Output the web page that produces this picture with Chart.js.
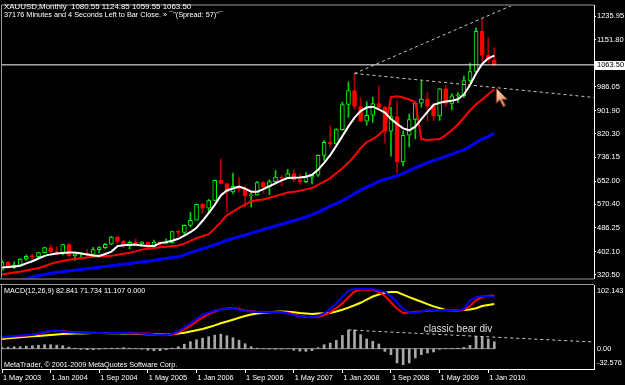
<!DOCTYPE html>
<html lang="en">
<head>
<meta charset="UTF-8">
<title>XAUUSD Monthly</title>
<style>
    html, body { margin: 0; padding: 0; background: #000; }
    #wrap { position: relative; width: 625px; height: 385px; background: #000; overflow: hidden; }
    #main { position: absolute; left: 0; top: 0; }
    #macd { position: absolute; left: 0; top: 284px; }
</style>
</head>
<body>
<div id="wrap">
    <canvas id="main" width="625" height="284"></canvas>
    <canvas id="macd" width="625" height="101"></canvas>
</div>

<script src="https://cdn.jsdelivr.net/npm/chart.js"></script>
<script>
// monthly bars, May 2003 .. Feb 2010 (index 0 = May 2003)
const opens = [336,364,346,354,375,385,384,398,416,402,
    396,427,387,394,394,392,409,416,428,453,
    438,423,435,429,436,417,436,430,433,473,
    470,495,513,569,556,583,654,643,613,633,
    624,599,603,646,632,650,666,662,678,656,
    650,666,673,743,789,783,834,923,972,916,
    864,885,926,913,829,880,720,814,870,928,
    942,918,883,979,927,954,954,1008,1040,1182,
    1097,1080.55];
const highs = [372,367,366,377,390,392,399,417,427,419,
    428,432,396,399,410,417,420,432,456,457,
    443,439,447,438,436,443,437,447,474,479,
    497,541,570,574,587,655,730,643,680,664,
    635,608,651,651,656,690,671,693,692,677,
    682,676,745,795,848,838,932,1003,1033,947,
    933,949,988,917,913,935,830,889,928,1006,
    965,929,980,990,962,965,1024,1070,1195,1227,
    1162,1124.85];
const lows = [336,342,341,354,371,367,378,397,399,391,
    390,384,371,383,386,389,398,412,426,428,
    416,411,424,421,415,414,418,428,432,456,
    461,489,513,538,537,582,642,542,607,612,
    560,560,602,609,604,646,634,660,650,640,
    646,642,668,725,772,782,831,877,906,864,
    850,860,906,786,740,681,705,773,801,914,
    864,866,867,915,905,930,947,1003,1038,1075,
    1072,1059.55];
const closes = [364,346,354,375,385,384,398,416,402,396,
    427,387,394,394,392,409,416,428,453,438,
    423,435,429,436,417,436,430,433,473,470,
    495,513,569,556,583,654,643,613,633,624,
    599,603,646,632,650,666,662,678,656,650,
    666,673,743,789,783,834,923,972,916,864,
    885,926,913,829,880,720,814,870,928,942,
    918,883,979,927,954,955,1008,1040,1182,1097,
    1081,1063.50];

// moving averages
const whiteMA = [345.6,347.3,349.4,351.5,360.1,367.7,377.4,386.7,391.9,395.0,
    397.1,398.8,398.8,395.3,391.5,388.1,386.7,393.3,401.9,421.2,
    424.7,426.4,425.7,423.7,421.9,421.6,431.9,435.4,440.3,447.2,
    458.6,470.6,486.2,511.1,538.0,567.4,600.9,618.5,625.4,632.7,
    625.1,614.0,614.0,623.4,634.1,643.4,654.1,662.7,663.8,664.8,
    666.9,674.1,691.4,715.9,743.9,776.4,811.0,845.5,876.6,899.8,
    912.2,915.3,905.6,894.2,871.8,854.5,838.6,831.7,844.5,871.4,
    896.8,921.9,929.5,934.0,936.7,941.6,958.8,992.3,1032.8,1066.6,
    1086.7,1096.0];
const redMA = [321.4,324.5,327.6,330.7,334.9,339.4,343.5,350.1,358.4,364.2,
    368.7,372.9,375.6,378.4,381.2,383.2,384.3,385.3,386.7,390.5,
    394.3,397.8,402.6,408.8,412.3,414.7,417.1,419.2,421.3,423.3,
    430.2,439.6,449.2,456.5,463.7,484.1,506.2,531.1,543.5,556.7,
    568.1,579.5,584.3,586.4,592.6,598.8,604.7,611.0,614.0,617.5,
    622.3,627.1,637.9,649.9,662.4,679.7,697.0,716.3,740.5,768.1,
    789.5,800.6,815.8,835.2,949.2,952.6,947.8,940.9,931.9,800.6,
    797.1,798.9,800.6,814.5,831.7,852.4,876.9,901.8,924.3,940.5,
    959.5,976.8];
const blueMA = [289.3,292.7,296.2,299.6,304.8,311.7,316.9,321.0,324.8,328.0,
    330.7,333.5,335.9,338.3,341.4,343.9,346.3,349.0,351.8,354.2,
    357.0,359.7,362.2,364.9,367.3,370.4,374.6,377.7,380.8,383.6,
    390.1,398.1,405.3,411.9,418.4,425.7,433.7,442.0,448.2,454.4,
    460.6,467.2,473.4,480.0,486.2,492.4,498.6,504.9,511.1,518.0,
    524.2,532.5,541.8,552.5,562.6,571.9,581.9,594.7,607.1,619.5,
    630.3,640.3,651.0,658.3,663.8,670.3,679.0,688.6,698.3,707.7,
    717.3,724.2,731.5,739.1,747.1,755.0,761.9,774.7,788.2,800.6,
    809.6,821.3];

// MACD window
const macdBlue = [18.7,19.5,20.3,21.0,21.6,22.3,24.3,26.8,28.4,28.7,
    27.6,26.4,25.9,25.6,25.5,25.3,25.0,24.9,25.2,25.4,
    25.1,24.8,24.6,24.2,23.5,22.6,22.1,21.6,24.2,28.0,
    34.0,40.4,47.6,54.0,57.6,61.2,63.0,64.1,65.3,62.4,
    60.3,59.6,58.8,58.3,58.5,58.6,58.3,56.9,54.2,52.1,
    51.1,50.5,52.4,56.9,64.0,72.5,83.1,93.3,95.7,95.7,
    95.7,95.2,93.3,91.2,84.2,74.4,63.6,58.0,57.4,59.6,
    62.2,62.0,61.9,61.7,61.6,61.6,63.6,77.3,82.6,84.5,
    84.3,82.8];
const macdRed = [17.9,18.7,19.5,20.3,21.1,21.9,23.5,25.9,28.0,28.7,
    28.0,27.1,26.3,25.8,25.5,25.4,25.1,24.9,25.0,25.3,
    25.2,24.9,24.7,24.4,24.2,22.9,21.9,21.5,22.7,25.9,
    30.8,36.4,43.6,50.0,55.6,59.6,62.8,64.4,65.3,63.6,
    60.8,60.0,59.2,58.7,58.4,58.5,58.3,57.6,55.1,52.4,
    51.1,50.5,51.1,53.7,58.3,65.3,72.5,82.4,91.7,94.6,
    94.6,94.6,90.9,84.5,74.1,64.0,57.2,57.9,58.8,60.0,
    60.8,61.4,61.6,61.6,61.6,61.6,62.4,68.5,77.6,82.9,
    85.0,85.0];
const macdSignal = [15.5,16.7,17.5,18.3,19.1,19.9,20.5,21.3,21.9,22.7,
    23.5,24.0,24.3,24.5,24.7,25.0,25.1,25.0,24.8,24.7,
    24.3,24.2,23.9,23.5,23.2,23.1,22.7,22.4,23.4,24.3,
    25.6,27.6,29.5,31.7,34.5,37.4,40.7,43.6,46.5,49.5,
    52.4,54.8,56.4,57.7,58.5,59.1,59.8,59.3,58.3,57.2,
    56.4,55.6,56.3,56.8,57.2,59.6,62.4,65.9,69.6,73.6,
    78.6,83.7,86.9,89.9,90.9,90.9,86.6,82.6,78.9,75.2,
    71.5,67.8,65.1,62.2,61.6,61.6,62.0,63.0,64.9,68.5,
    70.1,71.7];
const macdHist = [1.6,2.4,3.2,3.2,4.0,4.8,5.6,6.4,6.4,5.6,
    4.8,2.4,0.8,-0.8,-1.6,-1.6,-0.8,0.5,0.8,0.8,
    1.6,0.8,0.3,-0.8,-2.4,-3.2,-3.2,-1.6,0.8,3.2,
    7.2,11.2,14.4,16.8,19.2,21.7,23.3,20.8,17.6,13.6,
    8.0,3.2,0.8,0.3,-0.5,-0.8,-0.5,0.3,-2.4,-4.0,
    -4.3,-3.2,1.6,6.4,9.1,13.3,21.3,30.0,30.0,22.5,
    15.6,11.7,7.5,-4.3,-9.6,-22.9,-25.7,-22.9,-14.9,-9.6,
    -6.9,-5.3,-0.8,0.5,0.5,0.8,2.1,5.3,19.7,19.7,
    15.6,11.1];

// axis labels
const timeTickBars = [0, 8, 16, 24, 32, 40, 48, 56, 64, 72, 80];
const timeTickLabels = ['1 May 2003', '1 Jan 2004', '1 Sep 2004', '1 May 2005', '1 Jan 2006', '1 Sep 2006',
    '1 May 2007', '1 Jan 2008', '1 Sep 2008', '1 May 2009', '1 Jan 2010'];
const priceTicks = [320.50, 402.10, 486.25, 570.40, 652.00, 736.15, 820.30, 901.90, 986.05, 1151.80, 1235.95];
const macdLabels = [[102.143, '102.143', 6], [0, '0.00', 0], [-32.576, '-32.576', -6]];

// hand drawn trend lines: [bar, value] pairs
const priceTrendUp = [[58, 1033], [86, 1294]];
const priceTrendDown = [[58, 1033], [97.4, 948]];
const macdTrend = [[57, 30.0], [97.4, 10.7]];
const divNote = { bar: 69.4, value: 31.6, text: 'classic bear div' };

const header1 = 'XAUUSD,Monthly  1080.55 1124.85 1059.55 1063.50';
const header2 = '37176 Minutes and 4 Seconds Left to Bar Close. » \u00af"(Spread: 57)"\u00af';
const macdTitle = 'MACD(12,26,9) 82.841 71.734 11.107 0.000';
const copyright = 'MetaTrader, \u00a9 2001-2009 MetaQuotes Software Corp.';

const X_MAX = 97.4;
const FONT = '"Liberation Sans", Arial, sans-serif';
const TXT = 7.5;
Chart.defaults.font.family = FONT;
Chart.defaults.color = '#fff';

const pts = arr => arr.map((v, i) => ({ x: i, y: v }));
const seg = arr => arr.map(p => ({ x: p[0], y: p[1] }));
const isUp = closes.map((c, i) => c >= opens[i]);
const lastClose = closes[closes.length - 1];

// mouse pointer left on the chart, near the end of the red average
function drawPointer(ctx, x, y) {
    const p = [[0, 0], [0, 13], [3, 10], [6, 16], [8, 15], [5, 9.5], [9.5, 9.5]];
    ctx.save();
    ctx.translate(x, y);
    ctx.scale(1.15, 1.15);
    const g = ctx.createLinearGradient(0, 0, 9, 16);
    g.addColorStop(0, '#fbe3d0');
    g.addColorStop(1, '#d9763f');
    ctx.beginPath();
    p.forEach(([px, py], i) => i ? ctx.lineTo(px, py) : ctx.moveTo(px, py));
    ctx.closePath();
    ctx.fillStyle = g;
    ctx.fill();
    ctx.strokeStyle = '#8a3c18';
    ctx.lineWidth = 0.8;
    ctx.stroke();
    ctx.restore();
}

const mainDecor = {
    id: 'mainDecor',
    afterDraw(chart) {
        const { ctx, chartArea: a, scales } = chart;
        ctx.save();
        ctx.strokeStyle = '#9a9a9a';
        ctx.lineWidth = 1;
        ctx.beginPath();
        ctx.moveTo(a.left - 0.5, a.bottom);
        ctx.lineTo(a.left - 0.5, a.top - 0.5);
        ctx.lineTo(a.right, a.top - 0.5);
        ctx.moveTo(0, a.bottom + 0.5);
        ctx.lineTo(a.right, a.bottom + 0.5);
        ctx.stroke();

        // current price box
        const py = scales.y.getPixelForValue(lastClose);
        ctx.fillStyle = '#fff';
        ctx.fillRect(a.right + 1, Math.round(py) - 4, 31, 9);
        ctx.fillStyle = '#000';
        ctx.font = TXT + 'px ' + FONT;
        ctx.textBaseline = 'middle';
        ctx.fillText(lastClose.toFixed(2), a.right + 3, py + 0.5);

        ctx.fillStyle = '#fff';
        ctx.font = '7.9px ' + FONT;
        ctx.fillText(header1, 4, 7);
        ctx.font = '7.3px ' + FONT;
        ctx.fillText(header2, 4, 15);

        const last = redMA.length - 1;
        drawPointer(ctx, scales.x.getPixelForValue(last) + 2, scales.y.getPixelForValue(redMA[last]) - 1);
        ctx.restore();
    }
};

new Chart(document.getElementById('main'), {
    data: {
        datasets: [
            {
                type: 'bar', order: 5, grouped: false, barThickness: 1,
                data: lows.map((l, i) => ({ x: i, y: [l, highs[i]] })),
                backgroundColor: isUp.map(u => u ? '#00d000' : '#b00000')
            },
            {
                type: 'bar', order: 4, grouped: false, barThickness: 4, minBarLength: 1,
                borderSkipped: false, borderWidth: 1,
                data: opens.map((o, i) => ({ x: i, y: [o, closes[i]] })),
                backgroundColor: isUp.map(u => u ? '#000' : '#ff0000'),
                borderColor: isUp.map(u => u ? '#00ff00' : '#ff0000')
            },
            { type: 'line', order: 3, data: pts(blueMA), borderColor: '#0000ff', borderWidth: 3, pointRadius: 0 },
            { type: 'line', order: 2, data: pts(redMA), borderColor: '#ff0000', borderWidth: 2, pointRadius: 0 },
            { type: 'line', order: 1, data: pts(whiteMA), borderColor: '#ffffff', borderWidth: 2, pointRadius: 0 },
            { type: 'line', order: 0, data: [{ x: 0, y: lastClose }, { x: X_MAX, y: lastClose }], borderColor: '#ffffff', borderWidth: 1, pointRadius: 0 },
            { type: 'line', order: 0, data: seg(priceTrendUp), borderColor: '#c8c8c8', borderWidth: 1, borderDash: [3, 3], pointRadius: 0 },
            { type: 'line', order: 0, data: seg(priceTrendDown), borderColor: '#c8c8c8', borderWidth: 1, borderDash: [3, 3], pointRadius: 0 }
        ]
    },
    options: {
        responsive: false,
        animation: false,
        events: [],
        layout: { padding: { left: 2, top: 3, bottom: 1, right: 0 } },
        plugins: { legend: { display: false }, tooltip: { enabled: false } },
        scales: {
            x: { type: 'linear', min: 0, max: X_MAX, offset: false, display: false },
            y: {
                type: 'linear', position: 'right', min: 306.5, max: 1273.9,
                afterBuildTicks: s => { s.ticks = priceTicks.map(v => ({ value: v })); },
                afterFit: s => { s.width = 31; },
                ticks: { autoSkip: false, padding: 1, font: { size: TXT }, color: '#fff', callback: v => v.toFixed(2) },
                grid: { drawOnChartArea: false, tickLength: 2, color: '#fff' },
                border: { color: '#fff' }
            }
        }
    },
    plugins: [mainDecor]
});

const macdDecor = {
    id: 'macdDecor',
    afterDraw(chart) {
        const { ctx, chartArea: a, scales } = chart;
        ctx.save();
        ctx.strokeStyle = '#9a9a9a';
        ctx.lineWidth = 1;
        ctx.beginPath();
        ctx.moveTo(0, 0.5);
        ctx.lineTo(a.right, 0.5);
        ctx.moveTo(a.left - 0.5, 0);
        ctx.lineTo(a.left - 0.5, a.bottom);
        ctx.stroke();

        ctx.fillStyle = '#fff';
        ctx.font = '7.3px ' + FONT;
        ctx.textBaseline = 'middle';
        macdLabels.forEach(([v, t, dy]) => {
            ctx.fillText(t, a.right + 3, scales.y.getPixelForValue(v) + dy);
        });
        ctx.font = '7.2px ' + FONT;
        ctx.fillText(macdTitle, 4, 7.5);
        ctx.fillText(copyright, 4, 81);

        ctx.fillStyle = '#e0e0e0';
        ctx.font = '10px ' + FONT;
        ctx.fillText(divNote.text, scales.x.getPixelForValue(divNote.bar), scales.y.getPixelForValue(divNote.value));
        ctx.restore();
    }
};

new Chart(document.getElementById('macd'), {
    data: {
        datasets: [
            { type: 'line', order: 6, data: [{ x: 0, y: 0 }, { x: macdHist.length - 1, y: 0 }], borderColor: '#8c8c8c', borderWidth: 1, pointRadius: 0 },
            { type: 'bar', order: 5, data: pts(macdHist), backgroundColor: '#a8a8a8', barThickness: 2 },
            { type: 'line', order: 3, data: pts(macdSignal), borderColor: '#ffff00', borderWidth: 2, pointRadius: 0 },
            { type: 'line', order: 2, data: pts(macdRed), borderColor: '#ff0000', borderWidth: 2, pointRadius: 0 },
            { type: 'line', order: 1, data: pts(macdBlue), borderColor: '#0000ff', borderWidth: 2, pointRadius: 0 },
            { type: 'line', order: 0, data: seg(macdTrend), borderColor: '#c8c8c8', borderWidth: 1, borderDash: [3, 3], pointRadius: 0 }
        ]
    },
    options: {
        responsive: false,
        animation: false,
        events: [],
        layout: { padding: { left: 2, top: 1, bottom: 0, right: 0 } },
        plugins: { legend: { display: false }, tooltip: { enabled: false } },
        scales: {
            x: {
                type: 'linear', min: 0, max: X_MAX, position: 'bottom', offset: false,
                afterBuildTicks: s => { s.ticks = timeTickBars.map(v => ({ value: v })); },
                afterFit: s => { s.height = 16; },
                ticks: {
                    autoSkip: false, maxRotation: 0, align: 'start', padding: 1, labelOffset: 1,
                    font: { size: 7.3 }, color: '#fff',
                    callback: v => timeTickLabels[timeTickBars.indexOf(v)]
                },
                grid: { drawOnChartArea: false, offset: false, tickLength: 4, color: '#fff' },
                border: { color: '#fff' }
            },
            y: {
                type: 'linear', position: 'right', min: -32.576, max: 102.143,
                afterFit: s => { s.width = 31; },
                ticks: { display: false },
                grid: { display: false },
                border: { color: '#fff' }
            }
        }
    },
    plugins: [macdDecor]
});
</script>
</body>
</html>
